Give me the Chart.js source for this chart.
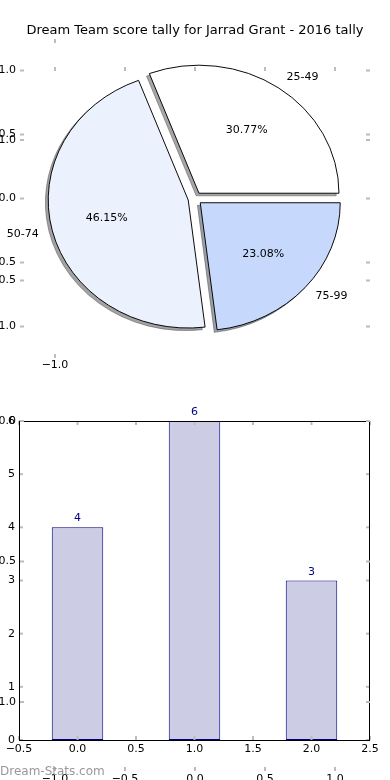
<!DOCTYPE html>
<html>
<head>
<meta charset="utf-8">
<script src="https://cdn.jsdelivr.net/npm/chart.js@4.4.1/dist/chart.umd.min.js"></script>
<style>
  html, body { margin: 0; padding: 0; background: #ffffff; }
  #wrap { position: relative; width: 390px; height: 780px; overflow: hidden; background: #ffffff; }
  canvas { position: absolute; left: 0; top: 0; }
</style>
</head>
<body>
<div id="wrap">
  <canvas id="barCanvas" width="390" height="780"></canvas>
  <canvas id="pieCanvas" width="390" height="780"></canvas>
</div>
<script>
// ---------------- data ----------------
const titleText = 'Dream Team score tally for Jarrad Grant - 2016 tally';
const categories = ['25-49', '50-74', '75-99'];
const tallies = [4, 6, 3];
const barPositions = [0, 1, 2];
const pieColors = ['#ffffff', '#ebf1fd', '#c6d9fd'];
const barXTicks = [-0.5, 0, 0.5, 1, 1.5, 2, 2.5];
const barYTicks = [0, 1, 2, 3, 4, 5, 6];
const ghostTicks = [-1, -0.5, 0, 0.5, 1];
const watermarkText = 'Dream-Stats.com';

// ---------------- styling ----------------
const FAMILY = '"DejaVu Sans", "Liberation Sans", sans-serif';
const TICK_FONT = '11px ' + FAMILY;
const TICK_GREY = '#bcbcbc';
const EXPLODE = 0.05, LABEL_DIST = 1.1, PCT_DIST = 0.6, SHADOW_OFF = 0.02;
const SQUASH = 128 / 140;          // pie axes are not equal-aspect
const BAR_WIDTH = 0.44;            // in x data units
const fmt = v => (Math.abs(v) < 1e-9 ? 0 : v).toFixed(1).replace('-', '\u2212');

const total = tallies.reduce((a, b) => a + b, 0);
// matplotlib: counter-clockwise from east; Chart.js: clockwise -> reverse order
const pieOrder = categories.map((_, i) => i).reverse();

function tick(ctx, x1, y1, x2, y2) {
  ctx.beginPath(); ctx.moveTo(x1, y1); ctx.lineTo(x2, y2); ctx.stroke();
}
function shadowOf(hex) {
  const n = parseInt(hex.slice(1), 16);
  const r = (n >> 16) & 255, g = (n >> 8) & 255, b = n & 255;
  return `rgba(${Math.round(r * 0.3)},${Math.round(g * 0.3)},${Math.round(b * 0.3)},0.5)`;
}

// ---------------- pie ----------------
const piePlugin = {
  id: 'mplPie',
  afterDatasetsUpdate(chart) {
    chart.getDatasetMeta(0).data.forEach(el => {
      const mid = (el.startAngle + el.endAngle) / 2;
      const d = EXPLODE * el.outerRadius;
      el.x += Math.cos(mid) * d;
      el.y += Math.sin(mid) * d;
    });
  },
  beforeDatasetsDraw(chart) {
    const ctx = chart.ctx, ca = chart.chartArea;
    const cx = (ca.left + ca.right) / 2, cy = (ca.top + ca.bottom) / 2;
    ctx.save();
    ctx.translate(cx, cy); ctx.scale(1, SQUASH); ctx.translate(-cx, -cy);
    chart.getDatasetMeta(0).data.forEach(el => {
      const so = SHADOW_OFF * el.outerRadius;
      const col = shadowOf(el.options.backgroundColor);
      ctx.save();
      ctx.translate(-so, so);
      ctx.beginPath();
      ctx.moveTo(el.x, el.y);
      ctx.arc(el.x, el.y, el.outerRadius, el.startAngle, el.endAngle);
      ctx.closePath();
      ctx.fillStyle = col; ctx.fill();
      ctx.lineWidth = 1; ctx.strokeStyle = col; ctx.stroke();
      ctx.restore();
    });
  },
  afterDatasetsDraw(chart) {
    const ctx = chart.ctx, ca = chart.chartArea;
    ctx.restore();
    const cx = (ca.left + ca.right) / 2, cy = (ca.top + ca.bottom) / 2;
    const toY = y => cy + (y - cy) * SQUASH;
    ctx.save();
    ctx.font = TICK_FONT; ctx.fillStyle = '#000'; ctx.textBaseline = 'middle';
    chart.getDatasetMeta(0).data.forEach((el, k) => {
      const i = pieOrder[k];
      const mid = (el.startAngle + el.endAngle) / 2;
      const c = Math.cos(mid), s = Math.sin(mid), R = el.outerRadius;
      const lx = el.x + LABEL_DIST * R * c, ly = toY(el.y + LABEL_DIST * R * s);
      ctx.textAlign = lx > cx ? 'left' : 'right';
      ctx.fillText(categories[i], lx, ly);
      const px = el.x + PCT_DIST * R * c, py = toY(el.y + PCT_DIST * R * s);
      ctx.textAlign = 'center';
      ctx.fillText((tallies[i] / total * 100).toFixed(2) + '%', px, py);
    });
    ctx.restore();
  },
  afterDraw(chart) {
    const ctx = chart.ctx, ca = chart.chartArea, W = chart.width;
    const cx = (ca.left + ca.right) / 2, cy = (ca.top + ca.bottom) / 2;
    const Rx = chart.getDatasetMeta(0).data[0].outerRadius, Ry = Rx * SQUASH;
    ctx.save();
    // title
    ctx.font = '13px ' + FAMILY; ctx.fillStyle = '#000';
    ctx.textAlign = 'center'; ctx.textBaseline = 'alphabetic';
    ctx.fillText(titleText, W / 2, 34);
    // ghost axes left over from the figure's hidden subplots
    ctx.font = TICK_FONT; ctx.textAlign = 'right'; ctx.textBaseline = 'middle';
    ctx.strokeStyle = TICK_GREY; ctx.lineWidth = 2;
    // pie axes (-1..1 around the pie centre)
    ghostTicks.forEach(v => {
      const y = cy - v * Ry, x = cx + v * Rx;
      ctx.fillText(fmt(v), 16, y);
      tick(ctx, 20, y, 24, y); tick(ctx, 366, y, 370, y);
      tick(ctx, x, 67, x, 71);
    });
    tick(ctx, cx - Rx, 354, cx - Rx, 358);
    tick(ctx, cx - Rx, 39, cx - Rx, 43);
    ctx.textAlign = 'center';
    ctx.fillText(fmt(-1), cx - Rx, 365);
    // second hidden axes (-1..1 spanning both panels)
    const gy0 = 421, gRy = 281;
    ctx.textAlign = 'right';
    ghostTicks.forEach(v => {
      const y = gy0 - v * gRy;
      ctx.fillText(fmt(v), 16, y);
      tick(ctx, 20, y, 24, y); tick(ctx, 366, y, 370, y);
    });
    ctx.textAlign = 'center'; ctx.textBaseline = 'top';
    ghostTicks.forEach(v => {
      const x = cx + v * Rx;
      tick(ctx, x, 767, x, 771);
      ctx.fillText(fmt(v), x, 774);
    });
    // watermark
    ctx.font = '12px ' + FAMILY; ctx.fillStyle = '#999999';
    ctx.textAlign = 'left'; ctx.textBaseline = 'alphabetic';
    ctx.fillText(watermarkText, 0, 775);
    ctx.restore();
  }
};

new Chart(document.getElementById('pieCanvas'), {
  type: 'pie',
  data: {
    labels: pieOrder.map(i => categories[i]),
    datasets: [{
      data: pieOrder.map(i => tallies[i]),
      backgroundColor: pieOrder.map(i => pieColors[i]),
      borderColor: '#000000',
      borderWidth: 1,
      borderJoinStyle: 'miter'
    }]
  },
  options: {
    responsive: false, animation: false, devicePixelRatio: 1, events: [],
    rotation: 90,
    radius: 140,
    layout: { padding: { left: 0, right: 0, top: 1, bottom: 384 } },
    plugins: { legend: { display: false }, tooltip: { enabled: false }, title: { display: false } }
  },
  plugins: [piePlugin]
});

// ---------------- bar ----------------
const barPlugin = {
  id: 'mplBar',
  afterDatasetsDraw(chart) {
    const ctx = chart.ctx, ca = chart.chartArea;
    const xs = chart.scales.x, ys = chart.scales.y;
    ctx.save();
    // value labels
    ctx.font = TICK_FONT; ctx.fillStyle = '#000080';
    ctx.textAlign = 'center'; ctx.textBaseline = 'alphabetic';
    chart.getDatasetMeta(0).data.forEach((el, i) => {
      ctx.fillText(String(tallies[i]), el.x, el.y - 6);
    });
    // inward ticks
    ctx.strokeStyle = TICK_GREY; ctx.lineWidth = 2;
    barXTicks.forEach(v => {
      const x = xs.getPixelForValue(v);
      tick(ctx, x, ca.bottom, x, ca.bottom - 4);
      tick(ctx, x, ca.top, x, ca.top + 4);
    });
    barYTicks.forEach(v => {
      const y = ys.getPixelForValue(v);
      tick(ctx, ca.left, y, ca.left + 4, y);
      tick(ctx, ca.right, y, ca.right - 4, y);
    });
    // frame
    ctx.strokeStyle = '#000'; ctx.lineWidth = 1;
    ctx.strokeRect(Math.round(ca.left) + 0.5, Math.round(ca.top) + 0.5,
                   Math.round(ca.right - ca.left) - 1, Math.round(ca.bottom - ca.top));
    ctx.restore();
  }
};

// Chart.js sizes bars against the smallest gap between samples/ticks (0.5 units here)
const minGap = Math.min(...barXTicks.slice(1).map((v, i) => v - barXTicks[i]));

new Chart(document.getElementById('barCanvas'), {
  type: 'bar',
  data: {
    datasets: [{
      data: barPositions.map((x, i) => ({ x: x, y: tallies[i] })),
      backgroundColor: '#ccccE5',
      borderColor: '#000080',
      borderWidth: 1,
      borderSkipped: false,
      barPercentage: BAR_WIDTH / minGap,
      categoryPercentage: 1
    }]
  },
  options: {
    responsive: false, animation: false, devicePixelRatio: 1, events: [],
    layout: { padding: { left: 0, right: 20, top: 421, bottom: 0 } },
    scales: {
      x: {
        type: 'linear', min: -0.5, max: 2.5, offset: false,
        afterBuildTicks: s => { s.ticks = barXTicks.map(v => ({ value: v })); },
        afterFit: s => { s.height = 40; },
        grid: { display: false, drawTicks: false },
        border: { display: false },
        ticks: { padding: 3, color: '#000', font: { family: FAMILY, size: 11 },
                 maxRotation: 0, autoSkip: false, callback: v => fmt(v) }
      },
      y: {
        type: 'linear', min: 0, max: 6,
        afterBuildTicks: s => { s.ticks = barYTicks.map(v => ({ value: v })); },
        afterFit: s => { s.width = 19; },
        grid: { display: false, drawTicks: false },
        border: { display: false },
        ticks: { padding: 4, color: '#000', font: { family: FAMILY, size: 11 },
                 autoSkip: false, callback: v => String(v) }
      }
    },
    plugins: { legend: { display: false }, tooltip: { enabled: false }, title: { display: false } }
  },
  plugins: [barPlugin]
});
</script>
</body>
</html>
